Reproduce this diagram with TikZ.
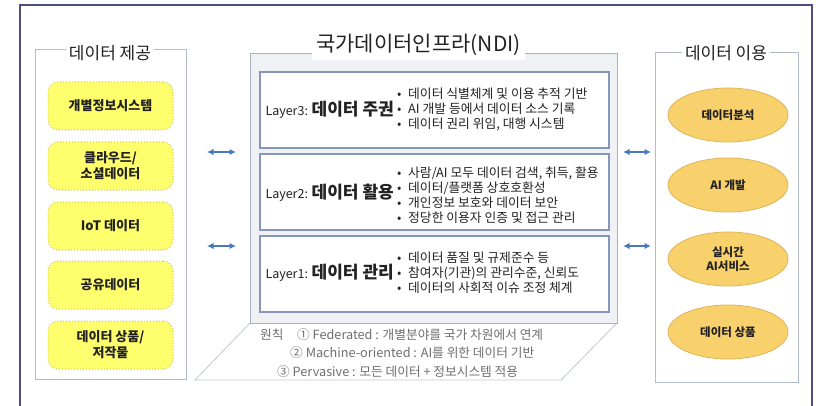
\documentclass[tikz,border=0pt]{standalone}
\usepackage{fontspec}
\setmainfont{Noto Sans CJK KR}
\usetikzlibrary{arrows.meta,shapes.geometric}
\definecolor{frameC}{HTML}{4E4E7E}
\definecolor{grpC}{HTML}{B4BCCC}
\definecolor{ndiFill}{HTML}{EFF1F5}
\definecolor{ndiC}{HTML}{A8B0C2}
\definecolor{layC}{HTML}{8595BC}
\definecolor{yelF}{HTML}{FFFF6E}
\definecolor{yelC}{HTML}{C9C46A}
\definecolor{ellF}{HTML}{F8D06C}
\definecolor{ellC}{HTML}{DDB45A}
\definecolor{arrC}{HTML}{4A78C2}
\definecolor{txtC}{HTML}{222222}
\definecolor{prinC}{HTML}{6E6E6E}
\newcommand\bl{\makebox[11pt][l]{•}}
\tikzset{
  grpbox/.style={draw=grpC, line width=1pt, fill=white},
  grptitle/.style={fill=white, inner sep=3pt, font=\fontsize{17}{19}\selectfont, text=txtC},
  ybox/.style={draw=yelC, dotted, line width=1pt, fill=yelF, rounded corners=10pt,
    minimum width=125pt, minimum height=48pt, align=center, text=txtC,
    font=\bfseries\fontsize{13}{16}\selectfont},
  ell/.style={ellipse, draw=ellC, line width=0.8pt, fill=ellF, minimum width=120pt,
    minimum height=54pt, align=center, text=txtC, font=\bfseries\fontsize{11.5}{14.5}\selectfont},
  laybox/.style={draw=layC, line width=1.2pt, fill=white},
  laylabel/.style={anchor=east, inner sep=0pt, text=txtC},
  bullets/.style={anchor=west, align=left, inner sep=0pt, text=txtC,
    font=\fontsize{12.8}{15}\selectfont},
  prin/.style={anchor=base west, inner sep=0pt, text=prinC, font=\fontsize{12.7}{14}\selectfont},
  biarrow/.style={{Latex[length=6.5pt,width=6.5pt]}-{Latex[length=6.5pt,width=6.5pt]}, draw=arrC, line width=1.8pt}
}
\begin{document}
\begin{tikzpicture}[x=1pt,y=-1pt]
\useasboundingbox (0,0) rectangle (818,406);
\fill[white] (0,0) rectangle (818,406);
% outer frame
\draw[frameC, line width=1.6pt] (20,406) -- (20,5) -- (812,5) -- (812,406);

% left group
\draw[grpbox] (35,50) rectangle (186,379);
\node[grptitle] (ltitle) at (110,53) {데이터 제공};
\node[ybox] (y1) at (110.5,106) {개별정보시스템};
\node[ybox] (y2) at (110.5,166) {클라우드/\\소셜데이터};
\node[ybox] (y3) at (110.5,226) {IoT 데이터};
\node[ybox] (y4) at (110.5,285) {공유데이터};
\node[ybox] (y5) at (110.5,345) {데이터 상품/\\저작물};

% right group
\draw[grpbox] (655,53) rectangle (798,382);
\node[grptitle] (rtitle) at (726,53) {데이터 이용};
\node[ell] (e1) at (728,115) {데이터분석};
\node[ell] (e2) at (728,185) {AI 개발};
\node[ell] (e3) at (728,259) {실시간\\AI서비스};
\node[ell] (e4) at (728,332) {데이터 상품};

% NDI bottom trapezoid
\draw[ndiC!70, line width=0.8pt, fill=white] (250,323) -- (195,380) -- (561,380) -- (617,323);
% NDI box
\draw[ndiC, line width=1pt, fill=ndiFill] (250,54) rectangle (617,323);
\node[fill=white, inner sep=4pt, text=txtC, font=\fontsize{21}{23}\selectfont] (ndititle) at (418.5,45) {국가데이터인프라(NDI)};

% layer boxes
\draw[laybox] (260,72) rectangle (609,148);
\draw[laybox] (260,154) rectangle (609,230);
\draw[laybox] (260,236) rectangle (609,312);

\node[laylabel] (l3) at (394,110) {{\fontsize{12.5}{14}\selectfont Layer3: }{\bfseries\fontsize{17}{19}\selectfont 데이터 주권}};
\node[bullets] (b3) at (397,109.5) {\bl 데이터 식별체계 및 이용 추적 기반\\\bl AI 개발 등에서 데이터 소스 기록\\\bl 데이터 권리 위임, 대행 시스템};

\node[laylabel] (l2) at (394,193) {{\fontsize{12.5}{14}\selectfont Layer2: }{\bfseries\fontsize{17}{19}\selectfont 데이터 활용}};
\node[bullets] (b2) at (397,195.5) {\bl 사람/AI 모두 데이터 검색, 취득, 활용\\\bl 데이터/플랫폼 상호호환성\\\bl 개인정보 보호와 데이터 보안\\\bl 정당한 이용자 인증 및 접근 관리};

\node[laylabel] (l1) at (394,273) {{\fontsize{12.5}{14}\selectfont Layer1: }{\bfseries\fontsize{17}{19}\selectfont 데이터 관리}};
\node[bullets] (b1) at (397,273) {\bl 데이터 품질 및 규제준수 등\\\bl 참여자(기관)의 관리수준, 신뢰도\\\bl 데이터의 사회적 이슈 조정 체계};

% principles
\node[prin] (p0) at (260,339) {원칙};
\node[prin] (p1) at (297,339) {① Federated : 개별분야를 국가 차원에서 연계};
\node[prin] (p2) at (290,357.5) {② Machine-oriented : AI를 위한 데이터 기반};
\node[prin] (p3) at (277,376) {③ Pervasive : 모든 데이터 + 정보시스템 적용};

% arrows
\coordinate (la1) at (207,152); \coordinate (lb1) at (236,152);
\coordinate (la2) at (207,246); \coordinate (lb2) at (236,246);
\coordinate (ra1) at (623,152); \coordinate (rb1) at (651,152);
\coordinate (ra2) at (623,246); \coordinate (rb2) at (651,246);
\draw[biarrow] (la1) -- (lb1);
\draw[biarrow] (la2) -- (lb2);
\draw[biarrow] (ra1) -- (rb1);
\draw[biarrow] (ra2) -- (rb2);
\end{tikzpicture}
\end{document}
